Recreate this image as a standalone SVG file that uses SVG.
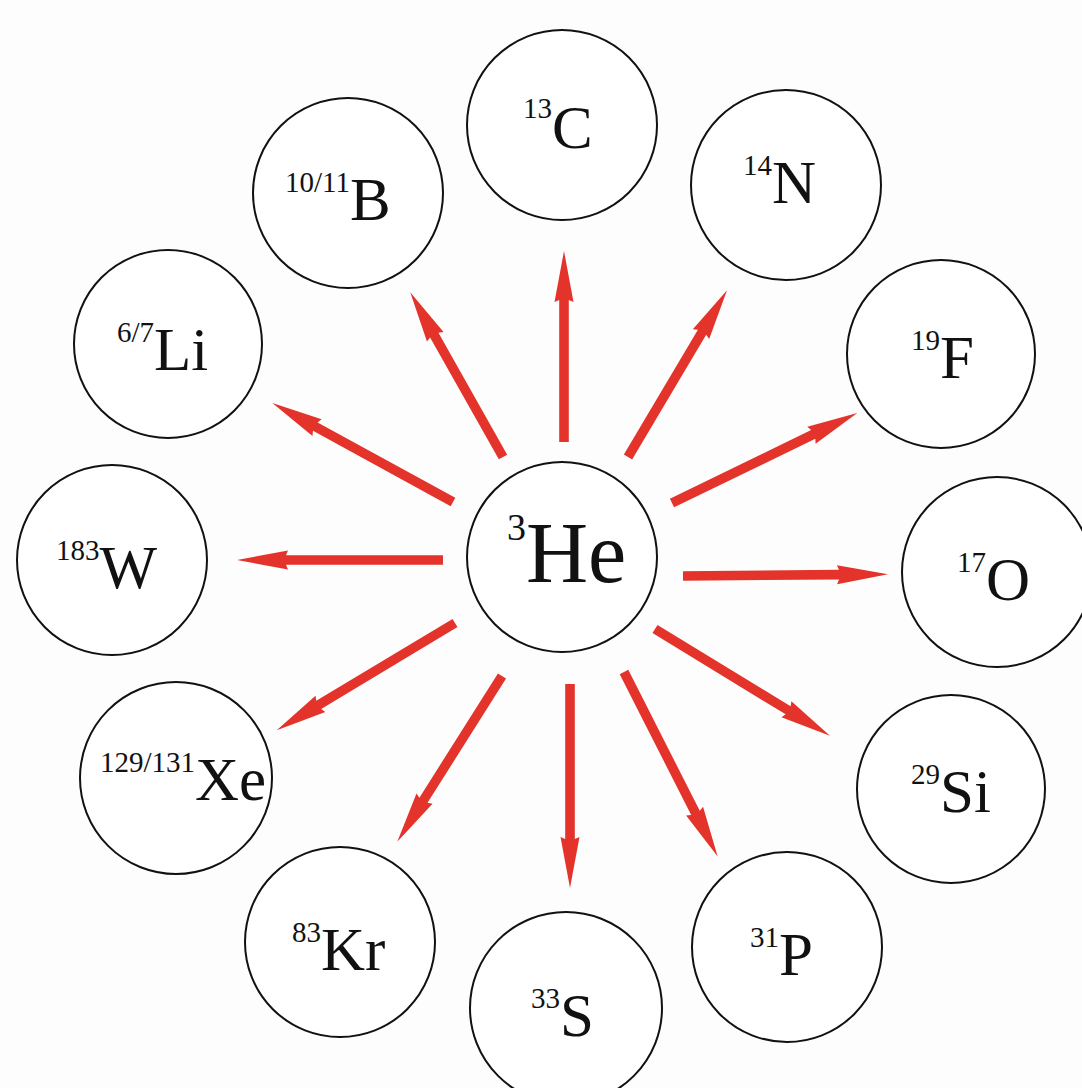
<svg xmlns="http://www.w3.org/2000/svg" width="1082" height="1088" viewBox="0 0 1082 1088">
<style>
.node circle{fill:#ffffff;stroke:#111;stroke-width:2}
text{font-family:'Liberation Serif','Times New Roman',serif;fill:#111;font-size:61px}
.sup{font-size:29px}
.arr{fill:#e3332a}
</style>
<rect width="1082" height="1088" fill="#fdfdfd"/>
<g id="connectors">
<path class="arr" transform="translate(564,442) rotate(-90)" d="M0,-4.8 L142,-4.8 L140,-9.5 L191,0 L140,9.5 L142,4.8 L0,4.8 Z"/>
<path class="arr" transform="translate(503,457) rotate(-119.4)" d="M0,-4.8 L140,-4.8 L138,-9.5 L189,0 L138,9.5 L140,4.8 L0,4.8 Z"/>
<path class="arr" transform="translate(628,457) rotate(-59.3)" d="M0,-4.8 L145,-4.8 L143,-9.5 L194,0 L143,9.5 L145,4.8 L0,4.8 Z"/>
<path class="arr" transform="translate(672,503) rotate(-25.9)" d="M0,-4.8 L157,-4.8 L155,-9.5 L206,0 L155,9.5 L157,4.8 L0,4.8 Z"/>
<path class="arr" transform="translate(683,576) rotate(-0.5)" d="M0,-4.8 L156,-4.8 L154,-9.5 L205,0 L154,9.5 L156,4.8 L0,4.8 Z"/>
<path class="arr" transform="translate(655,629) rotate(31.4)" d="M0,-4.8 L156,-4.8 L154,-9.5 L205,0 L154,9.5 L156,4.8 L0,4.8 Z"/>
<path class="arr" transform="translate(624,672) rotate(63.1)" d="M0,-4.8 L158,-4.8 L156,-9.5 L207,0 L156,9.5 L158,4.8 L0,4.8 Z"/>
<path class="arr" transform="translate(570,684) rotate(90)" d="M0,-4.8 L155,-4.8 L153,-9.5 L204,0 L153,9.5 L155,4.8 L0,4.8 Z"/>
<path class="arr" transform="translate(502,676) rotate(122.3)" d="M0,-4.8 L147,-4.8 L145,-9.5 L196,0 L145,9.5 L147,4.8 L0,4.8 Z"/>
<path class="arr" transform="translate(455,623) rotate(149)" d="M0,-4.8 L159,-4.8 L157,-9.5 L208,0 L157,9.5 L159,4.8 L0,4.8 Z"/>
<path class="arr" transform="translate(443,560) rotate(180)" d="M0,-4.8 L157,-4.8 L155,-9.5 L206,0 L155,9.5 L157,4.8 L0,4.8 Z"/>
<path class="arr" transform="translate(453,502) rotate(-151.3)" d="M0,-4.8 L157,-4.8 L155,-9.5 L206,0 L155,9.5 L157,4.8 L0,4.8 Z"/>
</g>
<g id="He3" class="node"><circle cx="562" cy="557" r="95"/><text x="507" style="font-size:86px"><tspan y="540" style="font-size:38px">3</tspan><tspan y="582">He</tspan></text></g>
<g id="C13" class="node"><circle cx="562" cy="125" r="95"/><text x="523"><tspan class="sup" y="118">13</tspan><tspan y="148">C</tspan></text></g>
<g id="N14" class="node"><circle cx="786" cy="185" r="95"/><text x="743"><tspan class="sup" y="175">14</tspan><tspan y="203">N</tspan></text></g>
<g id="F19" class="node"><circle cx="941" cy="354" r="94"/><text x="911"><tspan class="sup" y="350">19</tspan><tspan y="378">F</tspan></text></g>
<g id="O17" class="node"><circle cx="997" cy="572" r="95"/><text x="957"><tspan class="sup" y="572">17</tspan><tspan y="600">O</tspan></text></g>
<g id="Si29" class="node"><circle cx="951" cy="789" r="94"/><text x="911"><tspan class="sup" y="784">29</tspan><tspan y="812">Si</tspan></text></g>
<g id="P31" class="node"><circle cx="787" cy="947" r="95"/><text x="750"><tspan class="sup" y="947">31</tspan><tspan y="975">P</tspan></text></g>
<g id="S33" class="node"><circle cx="566" cy="1008" r="96"/><text x="531"><tspan class="sup" y="1008">33</tspan><tspan y="1036">S</tspan></text></g>
<g id="Kr83" class="node"><circle cx="340" cy="942" r="95"/><text x="292"><tspan class="sup" y="942">83</tspan><tspan y="970">Kr</tspan></text></g>
<g id="Xe129" class="node"><circle cx="176" cy="778" r="96"/><text x="100"><tspan class="sup" y="772">129/131</tspan><tspan y="800">Xe</tspan></text></g>
<g id="W183" class="node"><circle cx="112" cy="560" r="95"/><text x="56"><tspan class="sup" y="560">183</tspan><tspan y="588">W</tspan></text></g>
<g id="Li67" class="node"><circle cx="168" cy="344" r="94"/><text x="117"><tspan class="sup" y="342">6/7</tspan><tspan y="370">Li</tspan></text></g>
<g id="B1011" class="node"><circle cx="348" cy="193" r="95"/><text x="285"><tspan class="sup" y="192">10/11</tspan><tspan y="220">B</tspan></text></g>
</svg>
